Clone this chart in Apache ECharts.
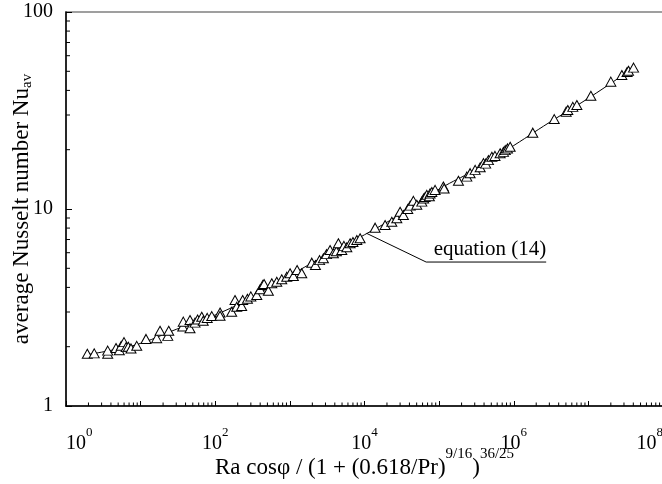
<!DOCTYPE html>
<html>
<head>
<meta charset="utf-8">
<script src="https://cdn.jsdelivr.net/npm/echarts@6/dist/echarts.min.js"></script>
<style>
html, body { margin: 0; padding: 0; background: #fff; }
#chart { width: 662px; height: 484px; }
</style>
</head>
<body>
<div id="chart"></div>
<script>
// measured points (triangles)
var ptX = [1.93, 2.39, 3.62, 3.62, 4.68, 5.18, 5.5, 5.99, 6.4, 6.84, 7.43, 8.87,
    11.8, 16.4, 18.2, 23.1, 23.8, 36.7, 37.3, 45.9, 45.9, 53.6, 58, 65.9, 69, 78, 89.8,
    116, 116, 166, 184, 194, 226, 233, 270, 300, 360, 399, 433, 451, 515, 572, 667, 778, 908,
    1006, 1114, 1250, 1443, 1966, 2200, 2500, 2812, 3100, 3457, 3830, 4200, 4467, 4965, 5300, 5797, 6413, 7000, 7888, 8730,
    13870, 18880, 23220, 27100, 30000, 33200, 38000, 41000, 45200, 50200, 58600, 62000, 64900, 68400, 74000, 75700, 79800, 88300,
    114000, 116700, 181500, 235000, 260000, 304000, 355000, 393000, 420000, 458000, 509000, 560000, 657000, 728000, 770000, 824000, 895000,
    1.80e6, 3.49e6, 5.04e6, 5.3e6, 6.19e6, 7.01e6, 1.08e7, 2.0e7, 2.81e7, 3.3e7, 3.45e7, 4.03e7];
var ptY = [1.84, 1.85, 1.84, 1.91, 1.97, 1.92, 2.02, 2.11, 1.99, 2.00, 1.96, 2.02,
    2.19, 2.21, 2.41, 2.27, 2.41, 2.53, 2.68, 2.73, 2.48, 2.65, 2.75, 2.84, 2.71, 2.80, 2.86,
    2.98, 2.87, 3.01, 3.45, 3.19, 3.22, 3.45, 3.50, 3.60, 3.66, 3.91, 4.11, 4.16, 3.85, 4.20, 4.27, 4.40, 4.53,
    4.72, 4.57, 4.90, 4.72, 5.34, 5.20, 5.50, 5.62, 5.90, 6.19, 5.96, 6.10, 6.70, 6.19, 6.50, 6.39, 6.70, 6.80, 6.96, 7.10,
    8.04, 8.29, 8.62, 8.97, 9.69, 9.32, 10.0, 10.4, 11.0, 10.5, 10.9, 11.3, 11.5, 11.8, 11.6, 12.0, 12.2, 12.5,
    13.0, 12.7, 13.9, 14.6, 15.2, 15.8, 16.3, 17.1, 17.0, 17.7, 18.4, 18.6, 19.2, 19.5, 19.9, 20.3, 20.7,
    24.4, 28.6, 31.2, 31.8, 33.0, 33.7, 37.6, 44.3, 47.9, 49.6, 50.3, 52.2];

// equation (14) curve
var eqX = [1.9, 5, 10, 30, 100, 300, 1000, 3000, 1e4, 3e4, 1e5, 3e5, 1e6, 3e6, 1e7, 4e7];
var eqY = [1.82, 1.95, 2.08, 2.45, 2.9, 3.55, 4.6, 5.8, 7.4, 9.4, 12.6, 15.8, 21, 27.5, 36.5, 52];

// leader line for the annotation
var leaderX = [10700, 67000, 2.72e6];
var leaderY = [7.52, 5.38, 5.38];

// axis ticks
var xMin = 1, xMax = 1e8, yMin = 1, yMax = 100;
var minorFactors = [2, 3, 4, 5, 6, 7, 8, 9];
var xDecades = [1, 10, 100, 1e3, 1e4, 1e5, 1e6, 1e7];
var yDecades = [1, 10];

var FONT = 'Liberation Serif';

function zip(a, b) {
    var out = [];
    for (var i = 0; i < a.length; i++) out.push([a[i], b[i]]);
    return out;
}

var xMinor = [], yMinor = [];
xDecades.forEach(function (d) {
    minorFactors.forEach(function (f) { xMinor.push([d * f, yMin]); });
});
yDecades.forEach(function (d) {
    minorFactors.forEach(function (f) { yMinor.push([xMin, d * f]); });
});

var chart = echarts.init(document.getElementById('chart'));

var option = {
    animation: false,
    grid: {
        left: 66, top: 12, right: -1, bottom: 78,
        outerBoundsMode: 'none', containLabel: false,
        show: true, borderColor: '#808080', borderWidth: 1.5
    },
    xAxis: {
        type: 'log', min: xMin, max: xMax, interval: 1,
        axisLine: { lineStyle: { color: '#000', width: 1.5 } },
        axisTick: { inside: true, length: 5, lineStyle: { color: '#000' } },
        splitLine: { show: false },
        axisLabel: {
            margin: 20,
            alignMinLabel: 'left', alignMaxLabel: 'right',
            formatter: function (v) {
                var e = Math.round(Math.log10(v));
                if (e % 2) return '';
                return '{b|10}{sup|' + e + '}';
            },
            rich: {
                b: { fontFamily: FONT, fontSize: 20, color: '#000', lineHeight: 28, verticalAlign: 'bottom' },
                sup: { fontFamily: FONT, fontSize: 13, color: '#000', lineHeight: 13, verticalAlign: 'top' }
            }
        },
        name: '{n|Ra cosφ / (1 + (0.618/Pr)}{sup|9/16}{n|)}{sup|36/25}',
        nameLocation: 'middle', nameGap: 41, nameMoveOverlap: false,
        nameTextStyle: {
            rich: {
                n: { fontFamily: FONT, fontSize: 23, color: '#000', lineHeight: 32, verticalAlign: 'bottom' },
                sup: { fontFamily: FONT, fontSize: 15, color: '#000', lineHeight: 15, verticalAlign: 'top' }
            }
        }
    },
    yAxis: {
        type: 'log', min: yMin, max: yMax, interval: 1,
        axisLine: { lineStyle: { color: '#000', width: 1.5 } },
        axisTick: { inside: true, length: 6, lineStyle: { color: '#000' } },
        splitLine: { show: false },
        axisLabel: { margin: 13, fontFamily: FONT, fontSize: 20, color: '#000' },
        name: '{n|average Nusselt number Nu}{sub|av}',
        nameLocation: 'middle', nameRotate: 90, nameGap: 31, nameMoveOverlap: false,
        nameTextStyle: {
            rich: {
                n: { fontFamily: FONT, fontSize: 23, color: '#000', lineHeight: 25, verticalAlign: 'top' },
                sub: { fontFamily: FONT, fontSize: 15, color: '#000', lineHeight: 14, verticalAlign: 'bottom' }
            }
        }
    },
    series: [
        {
            type: 'custom', silent: true, clip: false, z: 1,
            data: xMinor,
            renderItem: function (params, api) {
                var p = api.coord([api.value(0), api.value(1)]);
                return { type: 'line', shape: { x1: p[0], y1: p[1], x2: p[0], y2: p[1] - 3.5 },
                    style: { stroke: '#000', lineWidth: 1 } };
            }
        },
        {
            type: 'custom', silent: true, clip: false, z: 1,
            data: yMinor,
            renderItem: function (params, api) {
                var p = api.coord([api.value(0), api.value(1)]);
                return { type: 'line', shape: { x1: p[0], y1: p[1], x2: p[0] + 4, y2: p[1] },
                    style: { stroke: '#000', lineWidth: 1 } };
            }
        },
        {
            name: 'equation (14)', type: 'line', smooth: true, showSymbol: false, z: 2,
            data: zip(eqX, eqY),
            lineStyle: { color: '#000', width: 1 }
        },
        {
            name: 'leader', type: 'line', showSymbol: false, z: 2,
            data: zip(leaderX, leaderY),
            lineStyle: { color: '#000', width: 1 },
            endLabel: {
                show: true, formatter: 'equation (14)',
                fontFamily: FONT, fontSize: 21, color: '#000',
                align: 'right', verticalAlign: 'bottom', offset: [-8, -2]
            }
        },
        {
            name: 'data', type: 'scatter', z: 3,
            symbol: 'triangle', symbolSize: [10, 9],
            itemStyle: { color: '#fff', borderColor: '#000', borderWidth: 1, opacity: 1 },
            data: zip(ptX, ptY)
        }
    ]
};

chart.setOption(option);
</script>
</body>
</html>
